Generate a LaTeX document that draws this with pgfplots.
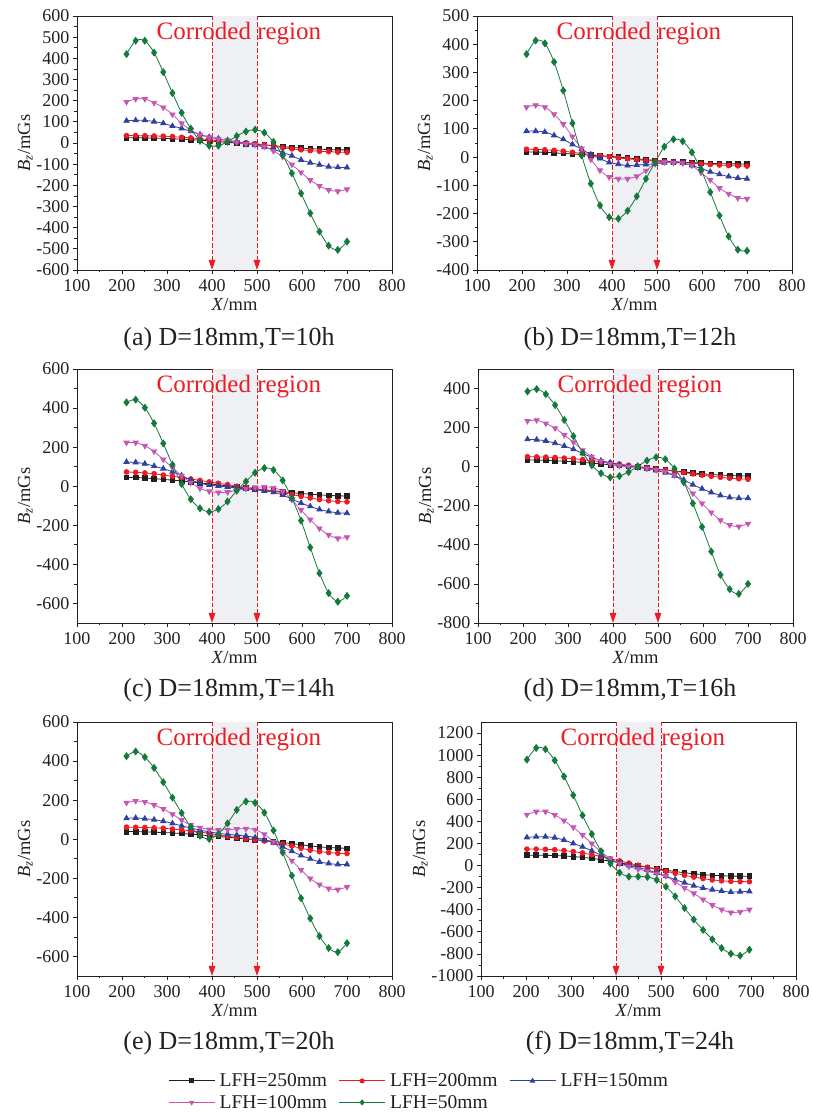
\documentclass[border=0pt]{standalone}
\usepackage{fontspec}
\setmainfont{Liberation Serif}
\usepackage{pgfplots}
\usepackage{pgfplotstable}
\pgfplotsset{compat=1.18}
\usetikzlibrary{arrows.meta}

\definecolor{cblack}{RGB}{35,31,32}
\definecolor{cred}{RGB}{237,28,36}
\definecolor{cblue}{RGB}{46,64,160}
\definecolor{cmag}{RGB}{196,86,180}
\definecolor{cgreen}{RGB}{20,122,60}
\definecolor{regiongray}{RGB}{238,240,243}
\definecolor{txt}{RGB}{35,31,32}

\pgfplotstableread{
x a b c d e
210 25 35 105 194 420
230.4 25 35 107 208 483
250.8 24 34 107 208 483
271.3 23 33 101 190 427
291.7 22 32 93 168 335
312.1 20 30 80 135 236
332.5 18 27 69 93 143
352.9 16 24 55 61 68
373.3 13 20 40 39 10
393.8 10 15 28 27 -13
414.2 6 11 20 20 -13
434.6 3 7 13 13 6
455 0 4 5 3 33
475.4 -3 1 -3 -5 54
495.8 -6 -3 -10 -8 63
516.3 -9 -8 -20 -17 49
536.7 -13 -15 -30 -38 5
557.1 -17 -22 -45 -65 -58
577.5 -21 -28 -60 -102 -143
597.9 -24 -32 -80 -139 -238
618.3 -27 -36 -93 -175 -332
638.8 -29 -39 -103 -203 -419
659.2 -31 -41 -112 -222 -485
679.6 -32 -43 -115 -228 -505
700 -33 -44 -116 -219 -466
}\tA

\pgfplotstableread{
x a b c d e
210 18 28 92 177 365
230.4 18 27 92 184 413
250.8 17 26 89 177 403
271.3 15 24 77 152 337
291.7 13 21 63 117 236
312.1 11 17 45 73 120
332.5 9 13 28 30 6
352.9 7 9 9 -9 -94
373.3 5 5 -5 -47 -171
393.8 3 1 -19 -71 -213
414.2 0 -3 -25 -77 -218
434.6 -3 -6 -30 -77 -190
455 -6 -9 -28 -68 -139
475.4 -9 -12 -26 -48 -77
495.8 -12 -14 -24 -24 -19
516.3 -14 -16 -20 -18 37
536.7 -16 -17 -18 -20 63
557.1 -18 -19 -21 -22 56
577.5 -20 -22 -30 -30 17
597.9 -21 -24 -40 -55 -45
618.3 -22 -26 -52 -81 -124
638.8 -23 -28 -61 -110 -207
659.2 -24 -30 -69 -130 -281
679.6 -24 -31 -74 -145 -328
700 -25 -32 -77 -148 -332
}\tB

\pgfplotstableread{
x a b c d e
210 45 73 124 223 429
230.4 45 71 122 223 443
250.8 42 68 115 207 402
271.3 39 64 103 178 322
291.7 35 57 90 137 219
312.1 31 51 74 95 110
332.5 27 44 55 54 11
352.9 22 37 32 18 -67
373.3 17 30 16 -11 -113
393.8 12 22 6 -26 -131
414.2 7 15 1 -32 -117
434.6 2 8 -4 -30 -78
455 -3 0 -9 -21 -23
475.4 -8 -7 -14 -13 24
495.8 -13 -13 -18 -6 69
516.3 -18 -20 -24 -3 93
536.7 -23 -26 -31 -8 83
557.1 -28 -33 -45 -26 30
577.5 -33 -42 -66 -69 -60
597.9 -37 -52 -86 -122 -176
618.3 -41 -60 -103 -171 -313
638.8 -44 -68 -119 -216 -445
659.2 -47 -74 -129 -249 -547
679.6 -49 -78 -136 -267 -591
700 -50 -80 -138 -261 -561
}\tC

\pgfplotstableread{
x a b c d e
210 34 51 140 234 385
230.4 34 50 138 238 397
250.8 32 49 132 221 371
271.3 30 47 120 197 315
291.7 28 44 106 162 239
312.1 25 41 89 125 156
332.5 22 36 68 84 72
352.9 18 31 48 51 7
373.3 14 25 31 29 -34
393.8 10 19 21 14 -55
414.2 6 13 10 5 -48
434.6 2 7 3 0 -27
455 -2 1 -3 -3 2
475.4 -7 -5 -10 -10 31
495.8 -12 -11 -19 -17 48
516.3 -17 -17 -31 -26 38
536.7 -22 -23 -46 -44 -10
557.1 -27 -30 -67 -82 -79
577.5 -32 -37 -92 -137 -188
597.9 -36 -43 -113 -188 -308
618.3 -40 -49 -132 -234 -434
638.8 -43 -54 -147 -274 -554
659.2 -45 -59 -157 -299 -627
679.6 -47 -62 -161 -306 -651
700 -48 -64 -161 -292 -600
}\tD

\pgfplotstableread{
x a b c d e
210 39 62 107 187 425
230.4 39 61 109 196 449
250.8 38 60 105 191 420
271.3 36 58 100 175 365
291.7 34 56 92 155 292
312.1 32 52 81 128 213
332.5 29 48 69 98 134
352.9 26 43 57 73 64
373.3 22 37 47 59 18
393.8 18 30 38 50 1
414.2 14 22 30 47 27
434.6 10 15 25 49 81
455 6 9 21 52 150
475.4 2 3 16 54 193
495.8 -2 -3 9 49 186
516.3 -6 -9 -3 25 136
536.7 -11 -16 -18 -13 45
557.1 -17 -25 -39 -64 -68
577.5 -22 -35 -61 -110 -186
597.9 -28 -46 -83 -157 -302
618.3 -34 -56 -100 -201 -405
638.8 -39 -63 -116 -232 -496
659.2 -42 -68 -124 -252 -557
679.6 -45 -72 -129 -258 -578
700 -46 -73 -129 -244 -532
}\tE

\pgfplotstableread{
x a b c d e
202 94 149 255 461 959
222.6 94 149 261 489 1065
243.2 93 147 261 489 1053
263.8 91 143 252 458 953
284.4 87 136 231 407 807
305 81 126 200 346 637
325.6 74 114 170 276 455
346.2 65 99 134 200 285
366.8 53 82 94 124 130
387.4 39 62 55 64 18
408 25 42 24 18 -64
428.6 11 22 0 -9 -100
449.2 -3 3 -18 -33 -100
469.8 -16 -15 -39 -52 -103
490.4 -29 -33 -67 -73 -130
511 -42 -52 -97 -94 -191
531.6 -54 -70 -127 -149 -279
552.2 -65 -88 -155 -203 -385
572.8 -74 -104 -182 -252 -489
593.4 -82 -118 -203 -307 -583
614 -88 -130 -218 -358 -668
634.6 -92 -138 -231 -398 -747
655.2 -95 -143 -240 -425 -798
675.8 -96 -145 -237 -419 -816
696.4 -96 -146 -234 -398 -762
}\tF

\pgfplotsset{
  panel/.style={
    scale only axis, width=315pt, height=254pt,
    xmin=100, xmax=800, xtick={100,200,...,800},
    minor x tick num=1, minor y tick num=1,
    tick align=outside, xtick pos=left, ytick pos=left,
    major tick length=4pt, minor tick length=2.5pt,
    every tick/.style={line width=0.8pt, color=txt},
    axis line style={line width=0.9pt, color=txt},
    ticklabel style={font=\fontsize{18}{18}\selectfont, text=txt},
    xticklabel style={yshift=-2pt},
    /pgf/number format/assume math mode=true,
    /pgf/number format/1000 sep={},
    xlabel={\textit{X}/mm},
    ylabel={\textit{B}\textsubscript{\textit{z}}/mGs},
    label style={font=\fontsize{18.5}{18.5}\selectfont, text=txt},
    xlabel style={yshift=0pt},
    ylabel style={yshift=-3pt},
    clip=true,
  },
  s250/.style={color=cblack, line width=0.8pt, mark=square*, mark size=2.3pt, mark options={solid}},
  s200/.style={color=cred, line width=0.8pt, mark=*, mark size=2.4pt, mark options={solid}},
  s150/.style={color=cblue, line width=0.8pt, mark=triangle*, mark size=3pt, mark options={solid}},
  s100/.style={color=cmag, line width=0.8pt, mark=triangle*, mark size=3pt, mark options={solid, rotate=180}},
  s50/.style={color=cgreen, line width=0.8pt, mark=diamond*, mark size=3.4pt, mark options={solid}},
}

\newcommand{\corroded}{%
  \fill[regiongray] (rel axis cs:0.428571,0) rectangle (rel axis cs:0.571429,1);
  \draw[cred, dash pattern=on 4.5pt off 2pt, line width=0.8pt, -{Triangle[length=10pt,width=6.5pt]}] (rel axis cs:0.428571,1) -- (rel axis cs:0.428571,0);
  \draw[cred, dash pattern=on 4.5pt off 2pt, line width=0.8pt, -{Triangle[length=10pt,width=6.5pt]}] (rel axis cs:0.571429,1) -- (rel axis cs:0.571429,0);
}
\newcommand{\corrtext}{%
  \node[text=cred, font=\fontsize{25}{25}\selectfont] at (rel axis cs:0.514,0.93) {Corroded region};
}
\newcommand{\allseries}[1]{%
  \addplot[s250, smooth, tension=0.5] table[x=x,y=a] {#1};
  \addplot[s200, smooth, tension=0.5] table[x=x,y=b] {#1};
  \addplot[s150, smooth, tension=0.5] table[x=x,y=c] {#1};
  \addplot[s100, smooth, tension=0.5] table[x=x,y=d] {#1};
  \addplot[s50, smooth, tension=0.5] table[x=x,y=e] {#1};
}

\begin{document}
\begin{tikzpicture}
\useasboundingbox (0pt,0pt) rectangle (812pt,1114pt);

% (a)
\begin{axis}[panel, at={(77pt,844pt)}, anchor=south west,
  ymin=-600, ymax=600, ytick={-600,-500,...,600}]
\corroded
\allseries{\tA}
\corrtext
\end{axis}

% (b)
\begin{axis}[panel, at={(477pt,844pt)}, anchor=south west,
  ymin=-400, ymax=500, ytick={-400,-300,...,500}]
\corroded
\allseries{\tB}
\corrtext
\end{axis}

% (c)
\begin{axis}[panel, at={(77pt,491pt)}, anchor=south west,
  ymin=-700, ymax=600, ytick={-600,-400,...,600}]
\corroded
\allseries{\tC}
\corrtext
\end{axis}

% (d)
\begin{axis}[panel, at={(478pt,491pt)}, anchor=south west,
  ymin=-800, ymax=500, ytick={-800,-600,...,400}]
\corroded
\allseries{\tD}
\corrtext
\end{axis}

% (e)
\begin{axis}[panel, at={(77pt,138pt)}, anchor=south west,
  ymin=-700, ymax=600, ytick={-600,-400,...,600}]
\corroded
\allseries{\tE}
\corrtext
\end{axis}

% (f)
\begin{axis}[panel, at={(481pt,138pt)}, anchor=south west,
  ymin=-1000, ymax=1300, ytick={-1000,-800,...,1200}]
\corroded
\allseries{\tF}
\corrtext
\end{axis}

% captions
\begin{scope}[every node/.style={font=\fontsize{26}{26}\selectfont, text=txt}]
\node at (229pt,775pt) {(a) D=18mm,T=10h};
\node at (630pt,775pt) {(b) D=18mm,T=12h};
\node at (229pt,424pt) {(c) D=18mm,T=14h};
\node at (630pt,424pt) {(d) D=18mm,T=16h};
\node at (229pt,71pt) {(e) D=18mm,T=20h};
\node at (630pt,71pt) {(f) D=18mm,T=24h};
\end{scope}

% legend
\begin{axis}[at={(0pt,0pt)}, anchor=south west, scale only axis,
  width=812pt, height=50pt, hide axis, xmin=0, xmax=1, ymin=0, ymax=1,
  legend columns=3,
  legend cell align=left,
  legend image code/.code={%
    \draw[mark repeat=2,mark phase=2,#1] plot coordinates {(0pt,0pt) (23pt,0pt) (46pt,0pt)};},
  legend style={at={(0.2069,0.84)}, anchor=north west, draw=none, fill=none,
    inner sep=0pt, row sep=4pt,
    font=\fontsize{19.5}{20}\selectfont, text=txt,
    nodes={inner sep=1.5pt},
    /tikz/every odd column/.append style={column sep=3pt},
    /tikz/every even column/.append style={column sep=10pt}},
]
\addlegendimage{s250, line width=1pt, mark size=2pt}
\addlegendentry{LFH=250mm}
\addlegendimage{s200, line width=1pt, mark size=2pt}
\addlegendentry{LFH=200mm}
\addlegendimage{s150, line width=1pt, mark size=2.3pt}
\addlegendentry{LFH=150mm}
\addlegendimage{s100, line width=1pt, mark size=2.3pt}
\addlegendentry{LFH=100mm}
\addlegendimage{s50, line width=1pt, mark size=2.4pt}
\addlegendentry{LFH=50mm}
\end{axis}
\end{tikzpicture}
\end{document}
